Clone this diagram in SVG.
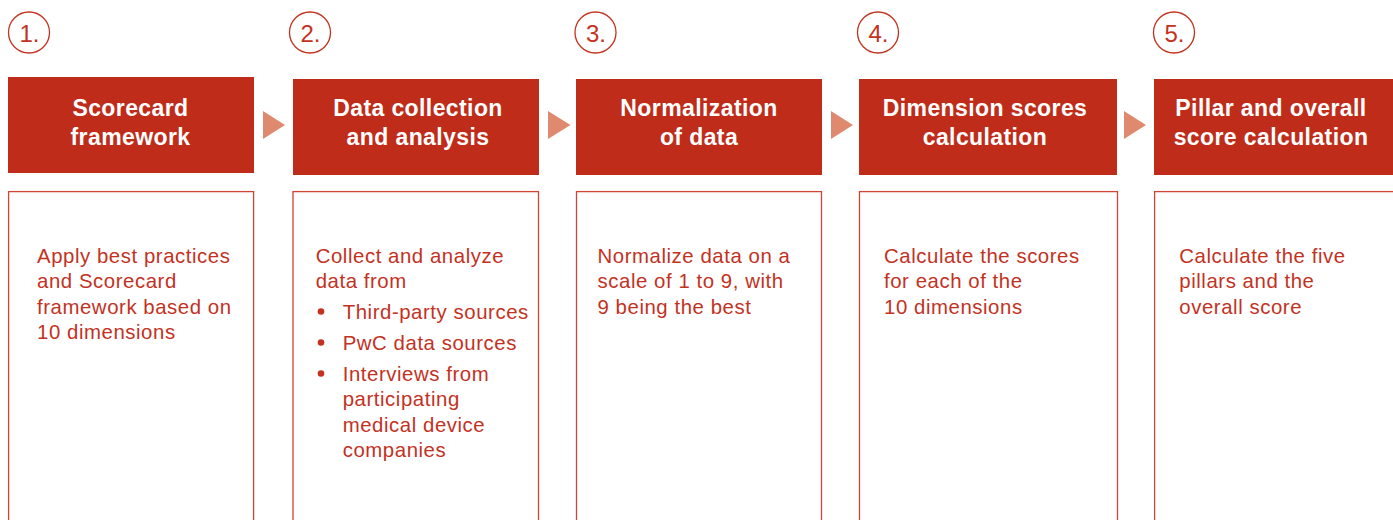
<svg xmlns="http://www.w3.org/2000/svg" width="1393" height="520" viewBox="0 0 1393 520">
<style>
.hdr{fill:#bf2c1a}
.hdrt{fill:#ffffff;font-family:"Liberation Sans",Arial,sans-serif;font-weight:bold;font-size:23px;letter-spacing:0.4px;text-anchor:middle}
.card{fill:#ffffff;stroke:#cf4434;stroke-width:1.3}
.body{fill:#c3321f;font-family:"Liberation Sans",Arial,sans-serif;font-size:20.4px;letter-spacing:0.55px}
.num{fill:none;stroke:#c3321f;stroke-width:1.3}
.numt{fill:#c3321f;font-family:"Liberation Sans",Arial,sans-serif;font-size:24px;text-anchor:middle}
.arr{fill:#df8a6e}
.bul{fill:#c3321f}
</style>
<rect width="1393" height="520" fill="#ffffff"/>

<g id="step1">
<circle class="num" cx="29" cy="32.5" r="20.5"/>
<text class="numt" x="29.5" y="41.5">1.</text>
<rect class="hdr" x="8" y="77" width="246" height="96"/>
<text class="hdrt" x="130.5" y="116">Scorecard</text>
<text class="hdrt" x="130.5" y="145">framework</text>
<rect class="card" x="8.6" y="191.6" width="245" height="340"/>
<text class="body" x="37" y="262.5">Apply best practices</text>
<text class="body" x="37" y="288">and Scorecard</text>
<text class="body" x="37" y="313.5">framework based on</text>
<text class="body" x="37" y="339">10 dimensions</text>
</g>

<g id="step2">
<circle class="num" cx="310" cy="32.5" r="20.5"/>
<text class="numt" x="310.5" y="41.5">2.</text>
<rect class="hdr" x="293" y="79" width="246" height="96"/>
<text class="hdrt" x="418" y="116">Data collection</text>
<text class="hdrt" x="418" y="145">and analysis</text>
<rect class="card" x="293" y="191.6" width="245.5" height="340"/>
<text class="body" x="315.7" y="262.5">Collect and analyze</text>
<text class="body" x="315.7" y="288">data from</text>
<circle class="bul" cx="321" cy="311.5" r="3.3"/>
<text class="body" x="342.7" y="318.5">Third-party sources</text>
<circle class="bul" cx="321" cy="342.5" r="3.3"/>
<text class="body" x="342.7" y="349.5">PwC data sources</text>
<circle class="bul" cx="321" cy="373.5" r="3.3"/>
<text class="body" x="342.7" y="380.5">Interviews from</text>
<text class="body" x="342.7" y="406">participating</text>
<text class="body" x="342.7" y="431.5">medical device</text>
<text class="body" x="342.7" y="457">companies</text>
</g>

<g id="step3">
<circle class="num" cx="595.5" cy="32.5" r="20.5"/>
<text class="numt" x="596" y="41.5">3.</text>
<rect class="hdr" x="576" y="79" width="246" height="96"/>
<text class="hdrt" x="699" y="116">Normalization</text>
<text class="hdrt" x="699" y="145">of data</text>
<rect class="card" x="576.5" y="191.6" width="245" height="340"/>
<text class="body" x="597.5" y="262.5">Normalize data on a</text>
<text class="body" x="597.5" y="288">scale of 1 to 9, with</text>
<text class="body" x="597.5" y="313.5">9 being the best</text>
</g>

<g id="step4">
<circle class="num" cx="878" cy="32.5" r="20.5"/>
<text class="numt" x="878.5" y="41.5">4.</text>
<rect class="hdr" x="859" y="79" width="258" height="96"/>
<text class="hdrt" x="985" y="116">Dimension scores</text>
<text class="hdrt" x="985" y="145">calculation</text>
<rect class="card" x="859.5" y="191.6" width="258" height="340"/>
<text class="body" x="884" y="262.5">Calculate the scores</text>
<text class="body" x="884" y="288">for each of the</text>
<text class="body" x="884" y="313.5">10 dimensions</text>
</g>

<g id="step5">
<circle class="num" cx="1174" cy="32.5" r="20.5"/>
<text class="numt" x="1174.5" y="41.5">5.</text>
<rect class="hdr" x="1154" y="79" width="245" height="96"/>
<text class="hdrt" x="1271" y="116">Pillar and overall</text>
<text class="hdrt" x="1271" y="145">score calculation</text>
<rect class="card" x="1154.6" y="191.6" width="260" height="340"/>
<text class="body" x="1179.3" y="262.5">Calculate the five</text>
<text class="body" x="1179.3" y="288">pillars and the</text>
<text class="body" x="1179.3" y="313.5">overall score</text>
</g>

<g id="connectors">
<polygon class="arr" points="263,111 285,125 263,139"/>
<polygon class="arr" points="548,111 570.5,125 548,139"/>
<polygon class="arr" points="831,111 853,125 831,139"/>
<polygon class="arr" points="1124,111 1146,125 1124,139"/>
</g>
</svg>
